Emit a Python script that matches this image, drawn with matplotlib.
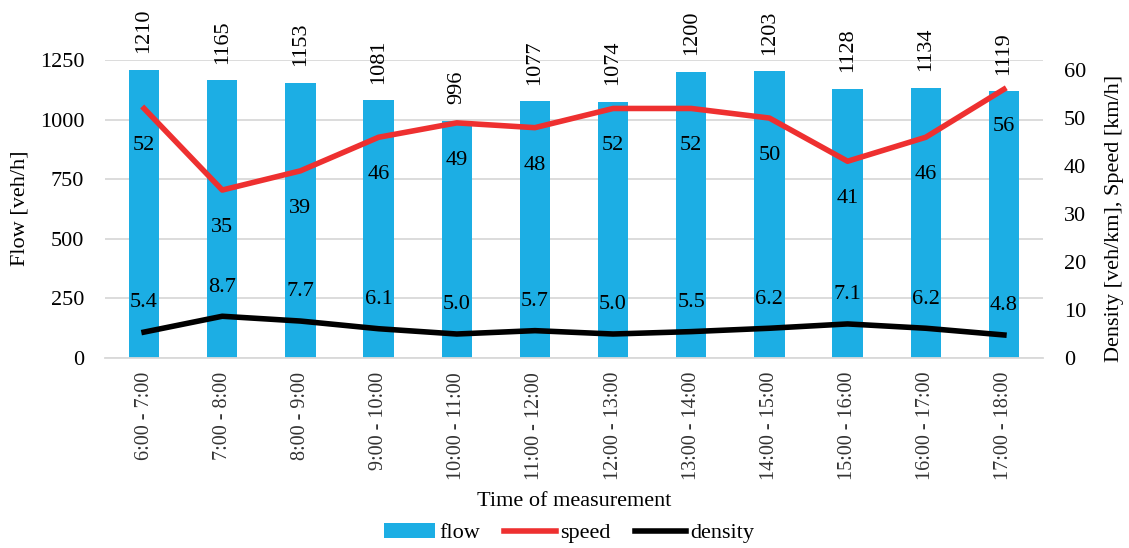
import matplotlib
matplotlib.use("Agg")
import matplotlib.pyplot as plt
import numpy as np

categories = ["6:00 - 7:00", "7:00 - 8:00", "8:00 - 9:00", "9:00 - 10:00", "10:00 - 11:00",
              "11:00 - 12:00", "12:00 - 13:00", "13:00 - 14:00", "14:00 - 15:00",
              "15:00 - 16:00", "16:00 - 17:00", "17:00 - 18:00"]
flow = [1210, 1165, 1153, 1081, 996, 1077, 1074, 1200, 1203, 1128, 1134, 1119]
speed = [52, 35, 39, 46, 49, 48, 52, 52, 50, 41, 46, 56]
density = [5.4, 8.7, 7.7, 6.1, 5.0, 5.7, 5.0, 5.5, 6.2, 7.1, 6.2, 4.8]

plt.rcParams['font.family'] = ['Liberation Serif', 'DejaVu Serif']

W, H = 1129, 548
fig = plt.figure(figsize=(W / 100, H / 100), dpi=100)
ax = fig.add_axes([105 / W, 1 - 358 / H, 938 / W, 298 / H])
ax2 = ax.twinx()

x = np.arange(len(categories))
bars = ax.bar(x, flow, width=0.39, color='#1CAEE4', zorder=2, label='flow')
ax.set_ylim(0, 1250)
ax.set_xlim(-0.5, len(categories) - 0.5)
ax.set_yticks([0, 250, 500, 750, 1000, 1250])
ax.yaxis.grid(True, color='#D9D9D9', linewidth=1.3, zorder=0)
ax.set_axisbelow(True)
for s in ['top', 'right', 'left']:
    ax.spines[s].set_visible(False)
for s in ['top', 'right', 'left', 'bottom']:
    ax2.spines[s].set_visible(False)
ax.spines['bottom'].set_color('#D9D9D9')
ax.spines['bottom'].set_linewidth(1.3)
ax.tick_params(axis='both', length=0)
ax.tick_params(axis='y', pad=15, labelsize=16)
ax.set_xticks(x)
ax.set_xticklabels(categories, rotation=90, fontsize=14.5, color='#333333')
ax.tick_params(axis='x', pad=10)

for xi, v in zip(x, flow):
    ax.annotate(str(v), (xi, v), xytext=(0, 12), textcoords='offset points',
                rotation=90, ha='center', va='bottom', fontsize=16)

ln1, = ax2.plot(x, speed, color='#EE3030', linewidth=4, label='speed', zorder=3)
ln2, = ax2.plot(x, density, color='black', linewidth=4, label='density', zorder=3)
ax2.set_ylim(0, 62.1)
ax2.set_yticks([0, 10, 20, 30, 40, 50, 60])
ax2.tick_params(axis='y', length=0, labelsize=16, pad=15)

for xi, v in zip(x, speed):
    ax2.annotate(str(v), (xi, v), xytext=(0, -27), textcoords='offset points',
                 ha='center', va='center', fontsize=16)
for xi, v in zip(x, density):
    ax2.annotate(f"{v:.1f}", (xi, v), xytext=(0, 21), textcoords='offset points',
                 ha='center', va='center', fontsize=16)

fig.text(20 / W, 1 - 208 / H, 'Flow [veh/h]', rotation=90, ha='center', va='center', fontsize=16)
fig.text(1115 / W, 1 - 218 / H, 'Density [veh/km], Speed [km/h]', rotation=90,
         ha='center', va='center', fontsize=16)
fig.text(574 / W, 1 - 501 / H, 'Time of measurement', ha='center', va='center', fontsize=16)

fig.legend(handles=[bars, ln1, ln2], labels=['flow', 'speed', 'density'],
           loc='center', bbox_to_anchor=(569 / W, 1 - 533 / H), ncol=3, frameon=False,
           fontsize=16, handlelength=2.3, handletextpad=0.2, columnspacing=1.1)

fig.savefig('out.png', dpi=100)
